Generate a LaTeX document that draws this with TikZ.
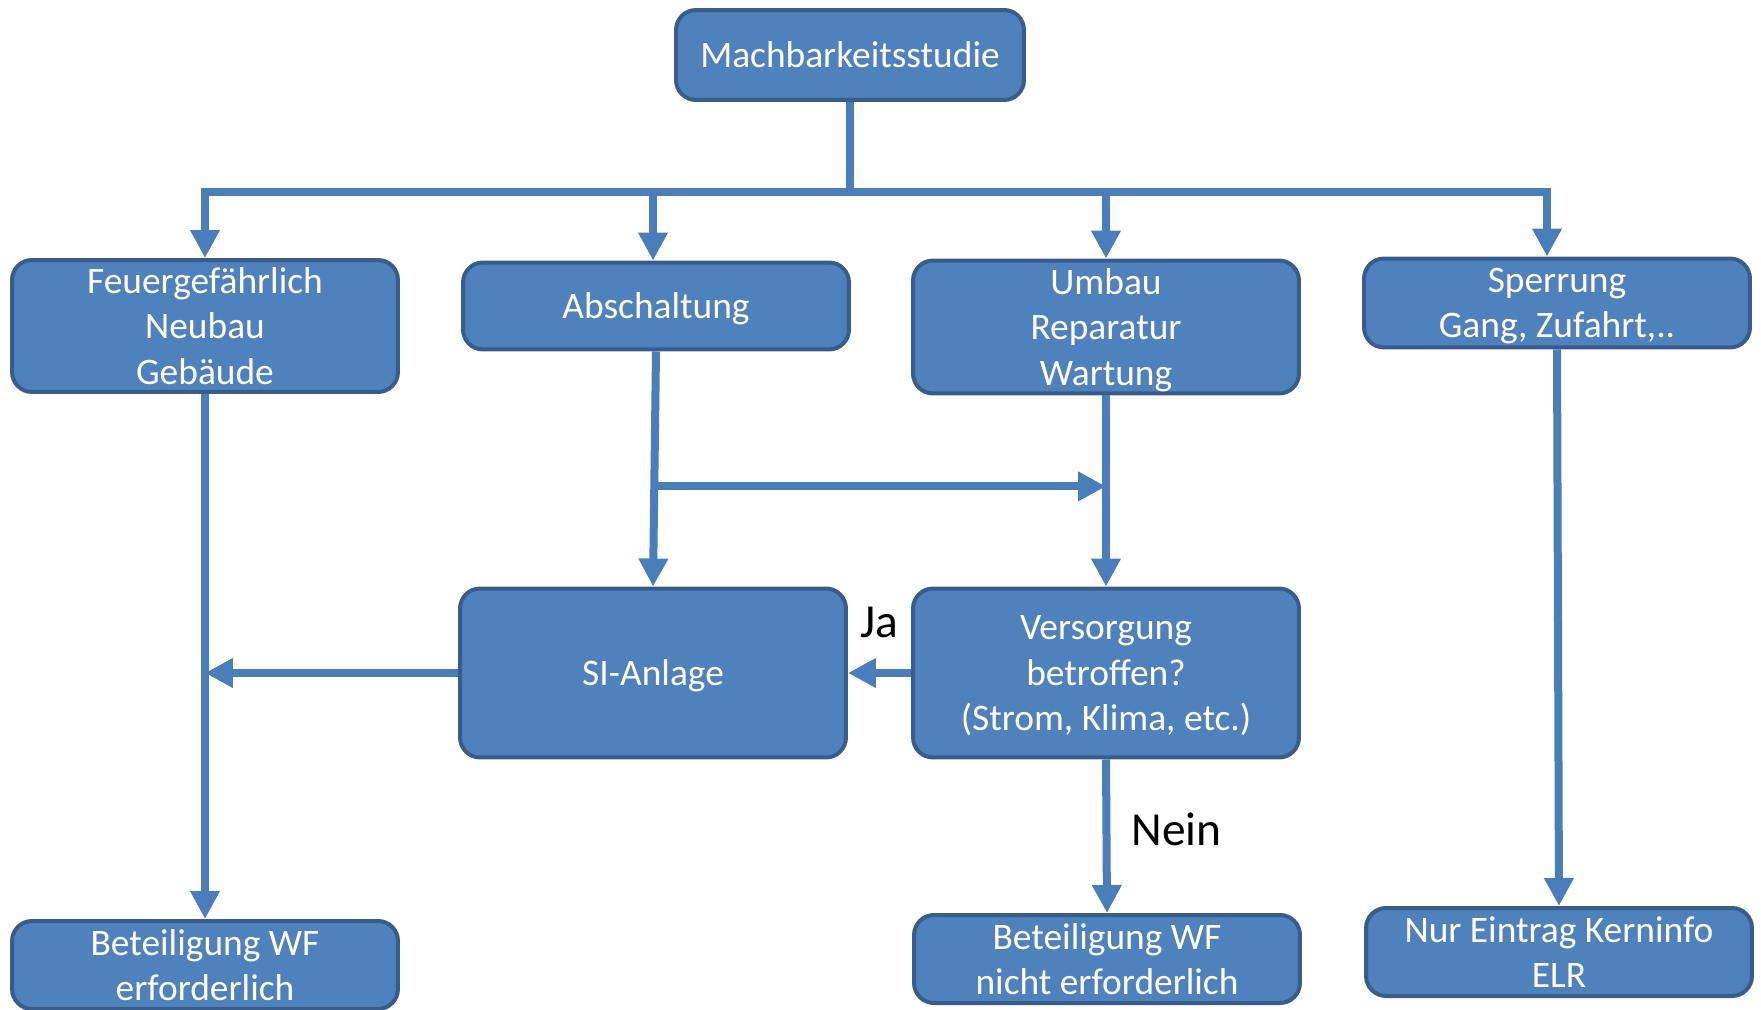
\documentclass[tikz,border=0pt]{standalone}
\usepackage{fontspec}
\setmainfont{Carlito}
\usepackage{tikz}
\usetikzlibrary{arrows.meta, positioning, calc}
\definecolor{boxfill}{RGB}{79,129,189}
\definecolor{boxline}{RGB}{56,93,138}
\definecolor{flowline}{RGB}{74,126,187}

\begin{document}
\begin{tikzpicture}[
    x=0.02cm, y=-0.02cm,
    box/.style={draw=boxline, fill=boxfill, line width=0.08cm, rounded corners=0.4cm, minimum width=7.72cm, align=center, text=white, font=\fontsize{21.3}{25.8}\selectfont, inner sep=0pt, text depth=0pt},
    arrow/.style={-{Triangle[length=0.56cm, width=0.56cm]}, draw=flowline, line width=0.16cm},
    flow/.style={draw=flowline, line width=0.16cm},
    lbl/.style={font=\fontsize{27}{32}\selectfont, inner sep=0pt}
]
    \useasboundingbox (0,0) rectangle (1761,1010);

    \node[box, minimum width=6.96cm, minimum height=1.8cm] (studie) at (850,55) {Machbarkeitsstudie};

    \node[box, minimum height=2.64cm] (feuer) at (205,326) {Feuergefährlich\\Neubau\\Gebäude};
    \node[box, minimum height=1.74cm] (abschalt) at (656,306) {Abschaltung};
    \node[box, minimum height=2.66cm] (umbau) at (1106,327) {Umbau\\Reparatur\\Wartung};
    \node[box, minimum height=1.78cm] (sperrung) at (1557,303) {Sperrung\\Gang, Zufahrt,..};

    \node[box, minimum height=3.38cm] (si) at (653,673) {SI-Anlage};
    \node[box, minimum height=3.38cm] (versorgung) at (1106,673) {Versorgung\\betroffen?\\(Strom, Klima, etc.)};

    \node[box, minimum height=1.76cm] (wfja) at (205,965) {Beteiligung WF\\erforderlich};
    \node[box, minimum height=1.76cm] (wfnein) at (1107,959) {Beteiligung WF\\nicht erforderlich};
    \node[box, minimum height=1.76cm] (elr) at (1559,952) {Nur Eintrag Kerninfo\\ELR};

    % Verteilung
    \coordinate (bus) at ($(studie.south)+(0,90)$);
    \draw[flow] (studie.south) -- (bus);
    \foreach \n/\dx in {feuer/0, abschalt/-3, umbau/0, sperrung/-10}
        \draw[arrow] (bus) -| ($(\n.north)+(\dx,0)$);

    \draw[arrow] (feuer.south) -- (wfja.north);
    \draw[arrow] (si.west) -- (si.west -| feuer.south);
    \draw[arrow] (abschalt.south) -- (si.north);
    \coordinate (split) at ($(abschalt.south)!0.574!(si.north)$);
    \draw[arrow] (split) -- (split -| umbau.south);
    \draw[arrow] (umbau.south) -- (versorgung.north);
    \draw[arrow] (versorgung.west) -- node[lbl, above=0.62cm] {Ja} (si.east);
    \draw[arrow] (versorgung.south) -- node[lbl, right=0.42cm, yshift=0.14cm] {Nein} (wfnein.north);
    \draw[arrow] (sperrung.south) -- (elr.north);
\end{tikzpicture}
\end{document}
